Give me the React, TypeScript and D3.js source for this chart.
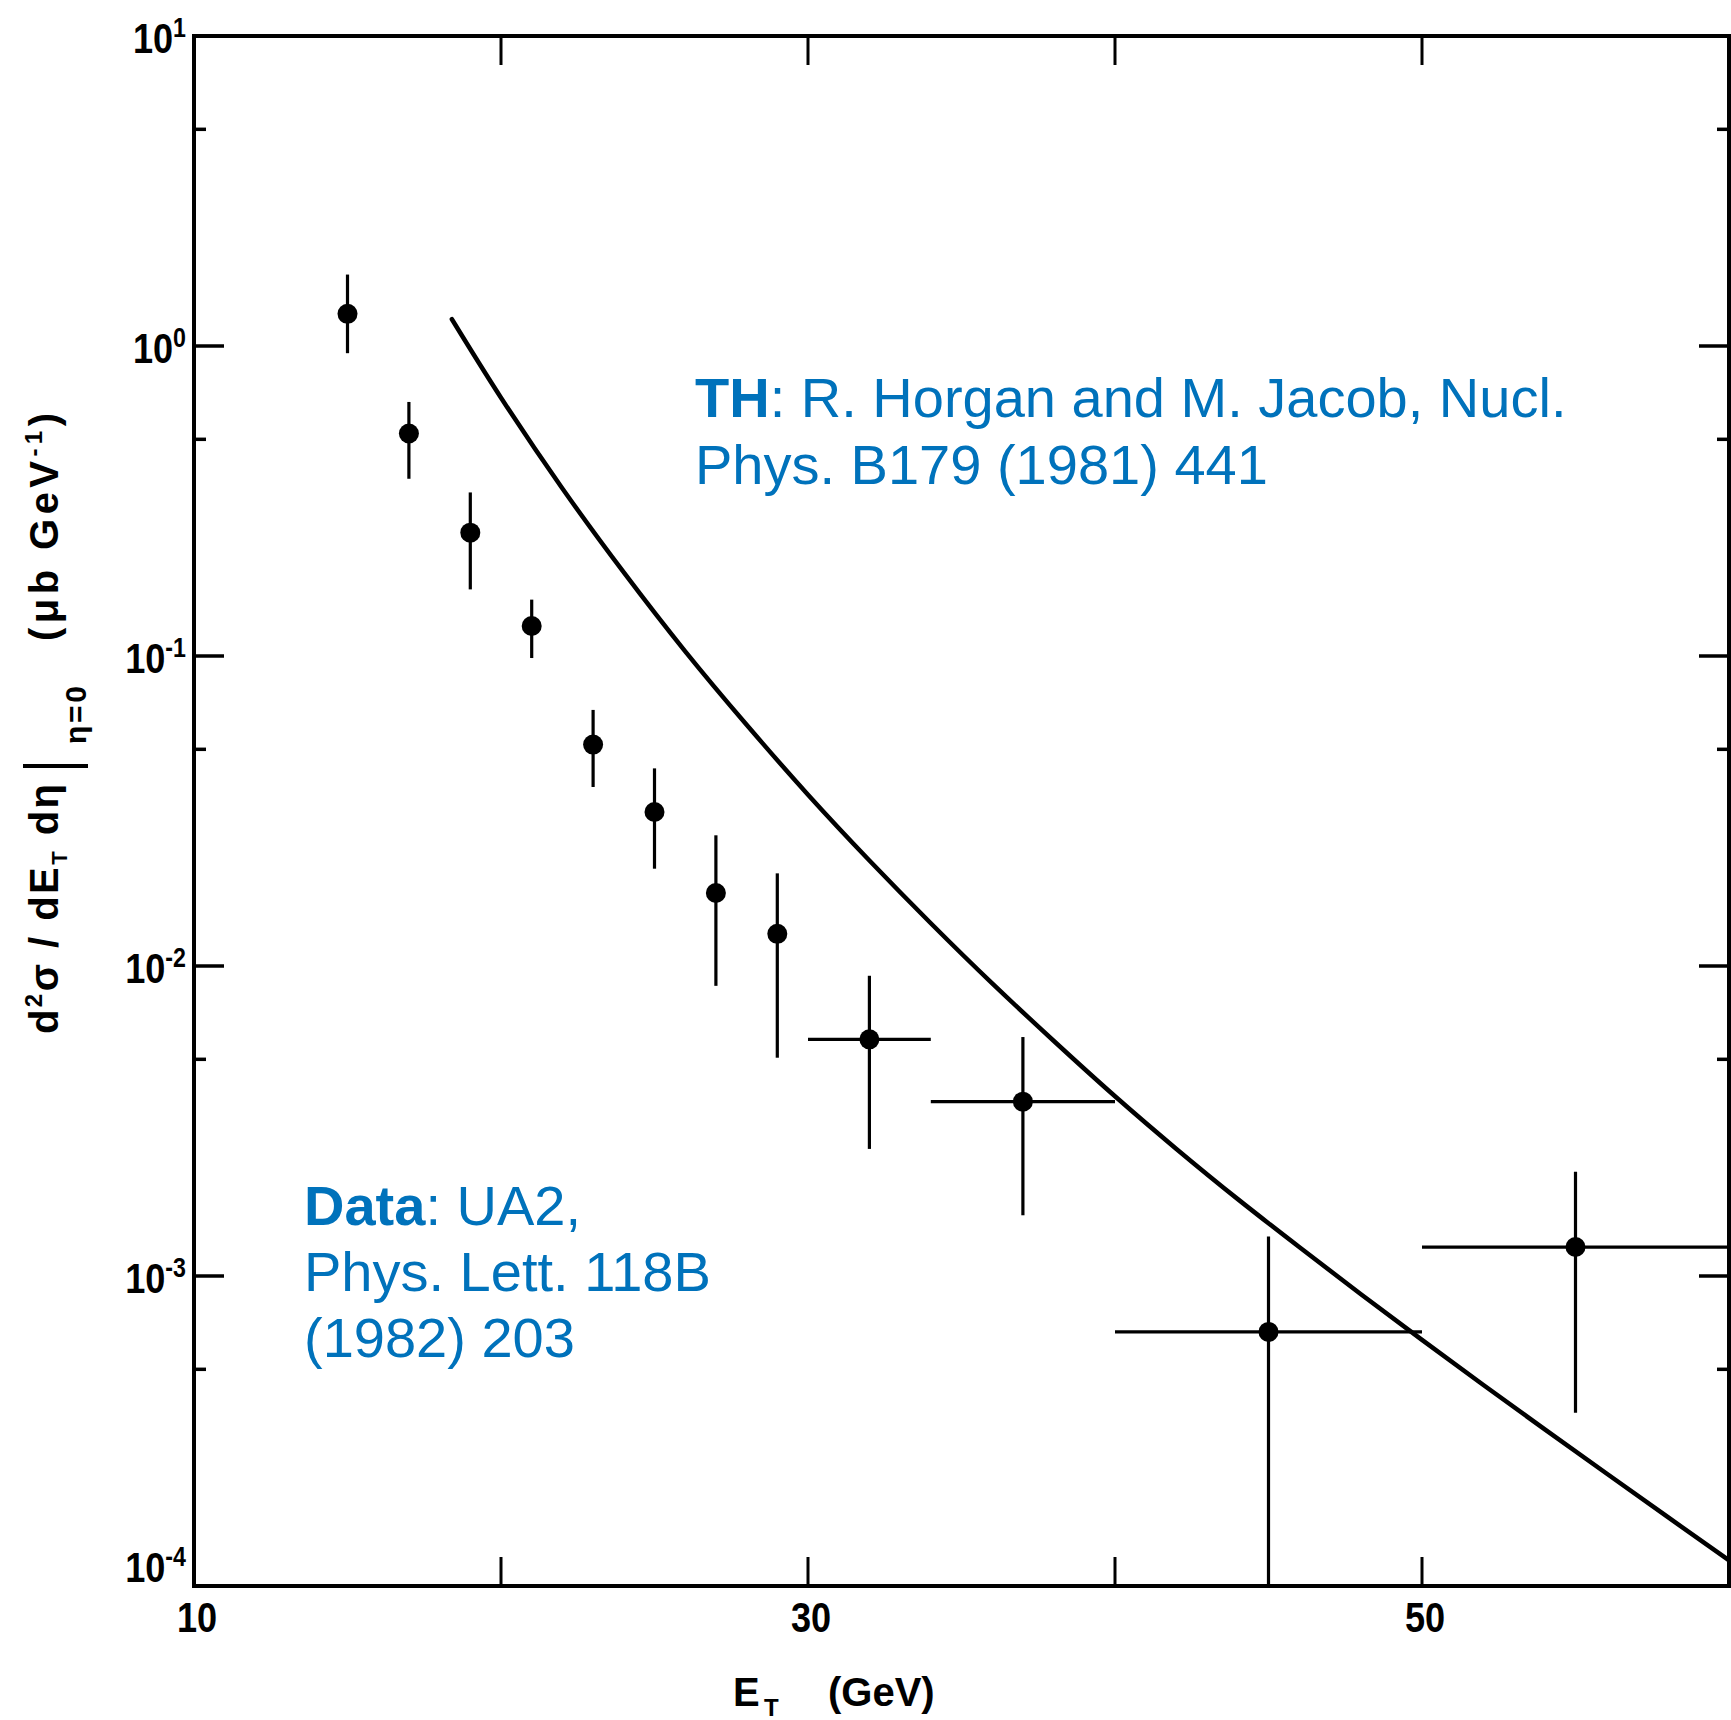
import React from "react";
import * as d3 from "d3";

// ---------- data ----------
const dataEt = [15, 17, 19, 21, 23, 25, 27, 29, 32, 37, 45, 55];
const dataXsec = [1.27, 0.522, 0.25, 0.125, 0.0518, 0.0314, 0.0172, 0.0127, 0.0058, 0.00365, 0.00066, 0.00124];
const dataErrHi = [1.7, 0.66, 0.337, 0.152, 0.067, 0.0434, 0.0264, 0.0199, 0.0093, 0.0059, 0.00134, 0.00217];
const dataErrLo = [0.948, 0.373, 0.164, 0.0985, 0.0378, 0.0206, 0.00863, 0.00506, 0.00257, 0.00157, 0.0001, 0.000362];
const dataBinLo = [null, null, null, null, null, null, null, null, 30, 34, 40, 50];
const dataBinHi = [null, null, null, null, null, null, null, null, 34, 40, 50, 60];

const thEt = [18.4, 20, 22, 24, 26, 28, 30, 32, 34, 36, 38, 40, 42, 44, 46, 48, 50, 52, 54, 56, 58, 60];
const thXsec = [1.22, 0.681, 0.347, 0.186, 0.1035, 0.06, 0.0357, 0.0219, 0.01374, 0.00879, 0.00574, 0.0038, 0.00257, 0.00177, 0.00124, 0.000875, 0.000622, 0.000445, 0.00032, 0.000231, 0.000167, 0.000121];

const xTickValues = [20, 30, 40, 50];
const xLabelValues = [10, 30, 50];
const xLabelTexts = ["10", "30", "50"];
const yMajorValues = [10, 1, 0.1, 0.01, 0.001, 0.0001];
const yMajorExps = ["1", "0", "-1", "-2", "-3", "-4"];
const yMinorValues = [5, 0.5, 0.05, 0.005, 0.0005];

const BLUE = "#0072bb";
const AXFONT = "'Liberation Sans', Arial, sans-serif";

export default function App() {
  const W = 1731, H = 1720;
  const L = 194, R = 1729, T = 36, B = 1586;
  const x = d3.scaleLinear().domain([10, 60]).range([L, R]);
  const y = d3.scaleLog().domain([1e-4, 10]).range([B, T]);

  const line = d3
    .line<number>()
    .x((_, i) => x(thEt[i]))
    .y((d) => y(d))
    .curve(d3.curveNatural);

  const majorLen = 30, minorLen = 12, xTickLen = 29;

  return (
    <svg
      width={W}
      height={H}
      viewBox={`0 0 ${W} ${H}`}
      style={{ position: "absolute", left: 0, top: 0, background: "#fff" }}
    >
      <rect x={0} y={0} width={W} height={H} fill="#fff" />
      {/* frame */}
      <rect x={L} y={T} width={R - L} height={B - T} fill="none" stroke="#000" strokeWidth={4} />

      {/* y ticks */}
      {yMajorValues.map((v, i) => (
        <g key={"ym" + i}>
          <line x1={L} x2={L + majorLen} y1={y(v)} y2={y(v)} stroke="#000" strokeWidth={3.5} />
          <line x1={R} x2={R - majorLen} y1={y(v)} y2={y(v)} stroke="#000" strokeWidth={3.5} />
        </g>
      ))}
      {yMinorValues.map((v, i) => (
        <g key={"yn" + i}>
          <line x1={L} x2={L + minorLen} y1={y(v)} y2={y(v)} stroke="#000" strokeWidth={3.5} />
          <line x1={R} x2={R - minorLen} y1={y(v)} y2={y(v)} stroke="#000" strokeWidth={3.5} />
        </g>
      ))}
      {/* x ticks */}
      {xTickValues.map((v, i) => (
        <g key={"xt" + i}>
          <line x1={x(v)} x2={x(v)} y1={B} y2={B - xTickLen} stroke="#000" strokeWidth={3} />
          <line x1={x(v)} x2={x(v)} y1={T} y2={T + xTickLen} stroke="#000" strokeWidth={3} />
        </g>
      ))}

      {/* y tick labels */}
      {yMajorValues.map((v, i) => (
        <g
          key={"yl" + i}
          transform={`translate(186, ${Math.min(y(v) + 17, 1582)}) scale(0.86,1)`}
          fontFamily={AXFONT}
          fontWeight="bold"
        >
          <text x={0} y={0} textAnchor="end" fontSize={42}>
            10
            <tspan fontSize={27} dy={-16}>
              {yMajorExps[i]}
            </tspan>
          </text>
        </g>
      ))}

      {/* x tick labels */}
      {xLabelValues.map((v, i) => (
        <g key={"xl" + i} transform={`translate(${x(v) + 3}, 1632) scale(0.86,1)`}>
          <text x={0} y={0} textAnchor="middle" fontSize={42} fontFamily={AXFONT} fontWeight="bold">
            {xLabelTexts[i]}
          </text>
        </g>
      ))}

      {/* x axis title */}
      <text x={733} y={1706} fontSize={40} fontFamily={AXFONT} fontWeight="bold">
        E
      </text>
      <text x={764} y={1716} fontSize={24} fontFamily={AXFONT} fontWeight="bold">
        T
      </text>
      <text x={828} y={1706} fontSize={40} fontFamily={AXFONT} fontWeight="bold">
        (GeV)
      </text>

      {/* y axis title, rotated pieces */}
      <g transform="translate(58, 1034) rotate(-90)" fontFamily={AXFONT} fontWeight="bold">
        <text x={0} y={0} fontSize={40} textLength={250} lengthAdjust="spacing">
          d
          <tspan fontSize={24} dy={-16}>
            2
          </tspan>
          <tspan dy={16}>σ / dE</tspan>
          <tspan fontSize={22} dy={9}>
            T
          </tspan>
          <tspan dy={-9}> dη</tspan>
        </text>
      </g>
      <line x1={23} x2={88} y1={766} y2={766} stroke="#000" strokeWidth={4} />
      <g transform="translate(86, 744) rotate(-90)" fontFamily={AXFONT} fontWeight="bold">
        <text x={0} y={0} fontSize={30} textLength={58} lengthAdjust="spacing">
          η=0
        </text>
      </g>
      <g transform="translate(58, 641) rotate(-90)" fontFamily={AXFONT} fontWeight="bold">
        <text x={0} y={0} fontSize={40} textLength={228} lengthAdjust="spacing">
          (μb GeV
          <tspan fontSize={24} dy={-16}>
            -1
          </tspan>
          <tspan dy={16}>)</tspan>
        </text>
      </g>

      {/* theory curve */}
      <path d={line(thXsec) || ""} fill="none" stroke="#000" strokeWidth={4.5} strokeLinecap="round" />

      {/* data points */}
      {dataEt.map((et, i) => {
        const cx = x(et);
        const cy = y(dataXsec[i]);
        const lo = dataBinLo[i];
        const hi = dataBinHi[i];
        return (
          <g key={"d" + i}>
            <line x1={cx} x2={cx} y1={y(dataErrHi[i])} y2={y(dataErrLo[i])} stroke="#000" strokeWidth={3.2} />
            {lo !== null && hi !== null && (
              <line x1={x(lo)} x2={x(hi)} y1={cy} y2={cy} stroke="#000" strokeWidth={3.2} />
            )}
            <circle cx={cx} cy={cy} r={10} fill="#000" />
          </g>
        );
      })}

      {/* annotations */}
      <text x={695} y={417} fontSize={56} fill={BLUE} fontFamily={AXFONT}>
        <tspan fontWeight="bold">TH</tspan>: R. Horgan and M. Jacob, Nucl.
      </text>
      <text x={695} y={484} fontSize={56} fill={BLUE} fontFamily={AXFONT}>
        Phys. B179 (1981) 441
      </text>
      <text x={304} y={1225} fontSize={56} fill={BLUE} fontFamily={AXFONT}>
        <tspan fontWeight="bold">Data</tspan>: UA2,
      </text>
      <text x={304} y={1291} fontSize={56} fill={BLUE} fontFamily={AXFONT}>
        Phys. Lett. 118B
      </text>
      <text x={304} y={1357} fontSize={56} fill={BLUE} fontFamily={AXFONT}>
        (1982) 203
      </text>
    </svg>
  );
}
